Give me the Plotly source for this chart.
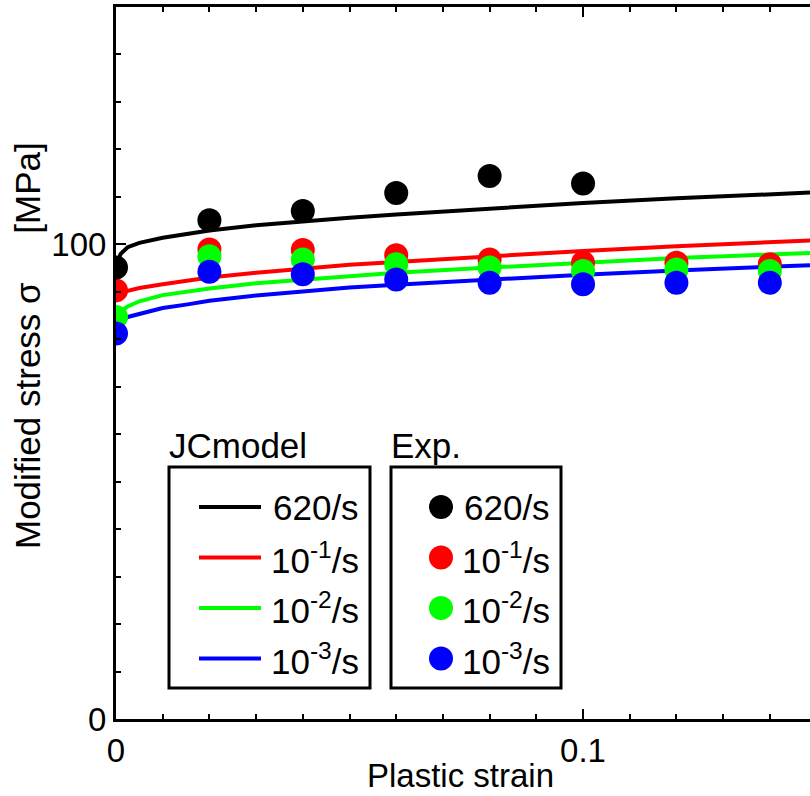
import plotly.graph_objects as go

# ---------------- data ----------------
strain_exp = [0.0, 0.02, 0.04, 0.06, 0.08, 0.10, 0.12, 0.14]
exp_620 = [95.1, 105.1, 107.0, 110.8, 114.4, 112.8]
exp_1e1 = [90.3, 98.9, 98.8, 97.7, 96.8, 96.1, 96.1, 95.8]
exp_1e2 = [84.7, 97.5, 96.8, 95.8, 95.1, 94.4, 94.7, 94.4]
exp_1e3 = [81.2, 94.2, 93.7, 92.6, 91.9, 91.6, 91.9, 91.9]

strain_jc = [0.0, 0.001, 0.0025, 0.005, 0.01, 0.015, 0.02, 0.03, 0.04, 0.05,
             0.06, 0.08, 0.10, 0.12, 0.1486]
jc_620 = [95.5, 98.0, 99.4, 100.3, 101.4, 102.2, 102.9, 104.0, 104.9, 105.6,
          106.3, 107.6, 108.7, 109.7, 110.9]
jc_1e1 = [88.0, 89.6, 90.2, 90.8, 91.6, 92.3, 93.0, 94.0, 94.9, 95.7,
          96.3, 97.5, 98.6, 99.6, 100.8]
jc_1e2 = [84.3, 85.9, 86.9, 88.0, 89.3, 90.0, 90.7, 91.8, 92.6, 93.4,
          94.0, 95.1, 96.1, 97.1, 98.2]
jc_1e3 = [82.3, 83.8, 84.7, 85.4, 86.6, 87.3, 88.1, 89.2, 90.1, 90.9,
          91.5, 92.6, 93.6, 94.5, 95.6]

rate_labels = ["620/s", "10<sup>-1</sup>/s", "10<sup>-2</sup>/s", "10<sup>-3</sup>/s"]
colors = ["#000000", "#ff0000", "#00ff00", "#0000ff"]

x_ticks = [0, 0.1]
x_ticklabels = ["0", "0.1"]
y_ticks = [0, 100]
y_ticklabels = ["0", "100"]

x_title = "Plastic strain"
y_title = "Modified stress \u03c3\u00a0\u00a0\u00a0\u00a0\u00a0[MPa]"
legend_titles = ["JCmodel", "Exp."]

# ---------------- layout constants ----------------
W, H = 810, 796
ML, MR, MT, MB = 116, 0, 7, 77
FONT = "Liberation Sans, Arial, sans-serif"
FS = 35
FS_TICK = 33
FS_XT = 33

def px(x):
    return (x - ML) / (W - ML - MR)

def py(y):
    return (H - MB - y) / (H - MT - MB)

fig = go.Figure()

jc_series = [jc_620, jc_1e1, jc_1e2, jc_1e3]
exp_series = [exp_620, exp_1e1, exp_1e2, exp_1e3]

for ys, c, lab in zip(jc_series, colors, rate_labels):
    fig.add_trace(go.Scatter(x=strain_jc[:len(ys)], y=ys, mode="lines",
                             line=dict(color=c, width=4), name="JC " + lab,
                             showlegend=False, hoverinfo="skip"))

for idx in [1, 2, 3, 0]:
    ys = exp_series[idx]
    fig.add_trace(go.Scatter(x=strain_exp[:len(ys)], y=ys, mode="markers",
                             marker=dict(color=colors[idx], size=24, line=dict(width=0)),
                             name="Exp " + rate_labels[idx], showlegend=False,
                             hoverinfo="skip"))

shapes = []
annotations = []
font = dict(family=FONT, size=FS, color="black")
tfont = dict(family=FONT, size=FS_TICK, color="black")

# legend boxes (manual)
box_top, box_bot = 467, 688
row_y0, row_dy = 507, 50.5
boxes = [(169, 370), (391, 561)]
for (x0, x1), t in zip(boxes, legend_titles):
    shapes.append(dict(type="rect", xref="paper", yref="paper",
                       x0=px(x0), x1=px(x1), y0=py(box_bot), y1=py(box_top),
                       line=dict(color="black", width=3), fillcolor="white", layer="above"))
    annotations.append(dict(text=t, xref="paper", yref="paper", x=px(x0 - 2), y=py(445),
                            xanchor="left", yanchor="middle", showarrow=False,
                            align="left", font=font))

for i, (c, lab) in enumerate(zip(colors, rate_labels)):
    ry = row_y0 + i * row_dy
    shapes.append(dict(type="line", xref="paper", yref="paper",
                       x0=px(199), x1=px(261), y0=py(ry), y1=py(ry),
                       line=dict(color=c, width=4), layer="above"))
    annotations.append(dict(text=lab, xref="paper", yref="paper", x=px(361), y=py(ry),
                            xanchor="right", yanchor="middle", showarrow=False,
                            align="right", font=font))
    r = 12
    shapes.append(dict(type="circle", xref="paper", yref="paper",
                       x0=px(441 - r), x1=px(441 + r), y0=py(ry + r), y1=py(ry - r),
                       line=dict(width=0), fillcolor=c, layer="above"))
    annotations.append(dict(text=lab, xref="paper", yref="paper", x=px(552), y=py(ry),
                            xanchor="right", yanchor="middle", showarrow=False,
                            align="right", font=font))

# axis titles (placed to match reference offsets)
annotations.append(dict(text=x_title, xref="paper", yref="paper", x=px(460), y=py(796),
                        xanchor="center", yanchor="bottom", showarrow=False,
                        font=dict(family=FONT, size=FS_XT, color="black")))
annotations.append(dict(text=y_title, xref="paper", yref="paper", x=px(27), y=py(346),
                        xanchor="center", yanchor="middle", showarrow=False, textangle=-90,
                        font=font))

fig.update_layout(
    width=W, height=H,
    margin=dict(l=ML, r=MR, t=MT, b=MB, pad=0),
    paper_bgcolor="white", plot_bgcolor="white",
    showlegend=False,
    shapes=shapes, annotations=annotations,
    font=font,
)
fig.update_xaxes(range=[0, 0.1486], showline=True, linewidth=3, linecolor="black",
                 mirror="ticks", ticks="inside", ticklen=10, tickwidth=2, tickcolor="black",
                 tickvals=x_ticks, ticktext=x_ticklabels, showgrid=False, zeroline=False,
                 minor=dict(dtick=0.01, tick0=0, ticks="inside", ticklen=5, tickwidth=2,
                            tickcolor="black", showgrid=False),
                 tickfont=tfont)
fig.update_yaxes(range=[0, 150], showline=True, linewidth=3, linecolor="black",
                 mirror=False, ticks="inside", ticklen=10, tickwidth=2, tickcolor="black",
                 tickvals=y_ticks, ticktext=y_ticklabels, showgrid=False, zeroline=False,
                 minor=dict(dtick=10, tick0=0, ticks="inside", ticklen=5, tickwidth=2,
                            tickcolor="black", showgrid=False),
                 tickfont=tfont)

fig.write_html("out.html", config={"displayModeBar": False},
               post_script="document.body.style.margin='0';document.body.style.overflow='hidden';")
